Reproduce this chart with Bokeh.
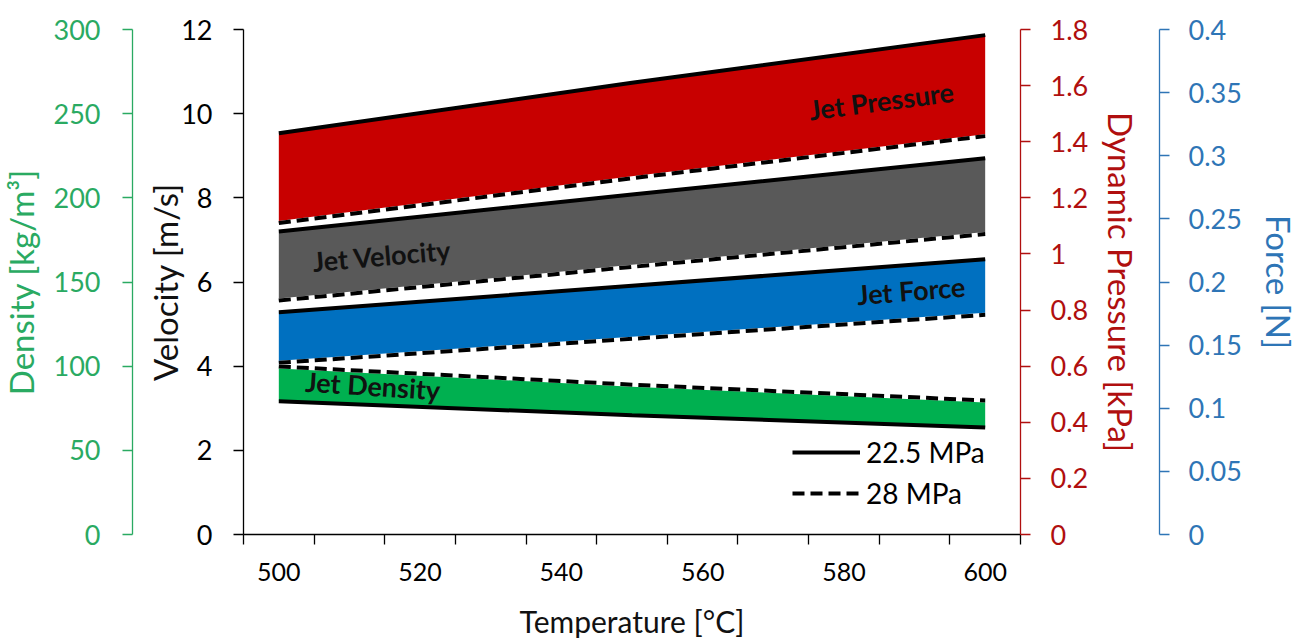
from bokeh.plotting import figure
from bokeh.models import Range1d, LinearAxis, FixedTicker, Legend, LegendItem
from bokeh.core.properties import value
from bokeh.embed import file_html
from bokeh.resources import INLINE
import math

# Jet properties vs. temperature at two operating pressures
temperature = [500, 550, 600]                 # °C
pressure_22_5 = [1.43, 1.61, 1.78]            # dynamic pressure [kPa]
pressure_28 = [1.11, 1.27, 1.42]
velocity_22_5 = [7.20, 8.08, 8.94]            # velocity [m/s]
velocity_28 = [5.56, 6.36, 7.14]
force_22_5 = [0.176, 0.197, 0.218]            # force [N]
force_28 = [0.136, 0.155, 0.174]
density_22_5 = [79.2, 70.8, 63.6]             # density [kg/m³]
density_28 = [99.8, 89.0, 79.6]

x_ticks = [500, 520, 540, 560, 580, 600]
x_minor_ticks = [495, 505, 515, 525, 535, 545, 555, 565, 575, 585, 595, 605]
velocity_ticks = [0, 2, 4, 6, 8, 10, 12]
density_ticks = [0, 50, 100, 150, 200, 250, 300]
pressure_ticks = [0, 0.2, 0.4, 0.6, 0.8, 1.0, 1.2, 1.4, 1.6, 1.8]
pressure_labels = ["0", "0.2", "0.4", "0.6", "0.8", "1", "1.2", "1.4", "1.6", "1.8"]
force_ticks = [0, 0.05, 0.1, 0.15, 0.2, 0.25, 0.3, 0.35, 0.4]
force_labels = ["0", "0.05", "0.1", "0.15", "0.2", "0.25", "0.3", "0.35", "0.4"]

band_names = ["Jet Pressure", "Jet Velocity", "Jet Force", "Jet Density"]
band_label_x = [585.3, 514.6, 589.5, 513.3]
band_label_y = [10.31, 6.63, 5.80, 3.54]
band_label_deg = [7.5, 5.0, 4.5, -3.7]

FONT = "Lato"
TICK_SIZE = "27px"
X_TICK_SIZE = "25px"
TITLE_SIZE = "33px"

RED = "#C80000"
GREY = "#595959"
BLUE = "#0070C0"
GREEN = "#00B050"
AX_GREEN = "#2AAA62"
AX_RED = "#B00F0F"
AX_BLUE = "#2E75B6"

# Canvas layout in pixels. The data area covers the whole canvas and every
# axis is pinned at an exact position inside it.
W, H = 1298, 639
X_START, X_END = 495, 605          # temperature span of the x axis
AXIS_L_PX, AXIS_R_PX = 243, 1020   # its extent on the canvas
Y_MAX = 12                         # velocity span of the value axes
AXIS_TOP_PX, AXIS_BOTTOM_PX = 29, 534
DENSITY_AXIS_PX = 132
FORCE_AXIS_PX = 1159

px_per_x = (AXIS_R_PX - AXIS_L_PX) / (X_END - X_START)
px_per_y = (AXIS_BOTTOM_PX - AXIS_TOP_PX) / Y_MAX


def px_to_x(px):
    return X_START + (px - AXIS_L_PX) / px_per_x


def px_to_y(py):
    return (AXIS_BOTTOM_PX - py) / px_per_y


y_lo, y_hi = px_to_y(H), px_to_y(0)

p = figure(width=W, height=H,
           x_range=Range1d(px_to_x(0), px_to_x(W)), y_range=Range1d(y_lo, y_hi),
           output_backend="svg", toolbar_location=None,
           min_border_left=0, min_border_right=0,
           min_border_top=0, min_border_bottom=0)
p.outline_line_color = None
p.grid.visible = False
p.background_fill_color = "white"
p.border_fill_color = "white"

# secondary scales share the same zero and top as the velocity scale
scale_max = {"pressure": 1.8, "force": 0.4, "density": 300}
p.extra_y_ranges = {
    name: Range1d(y_lo * top / Y_MAX, y_hi * top / Y_MAX)
    for name, top in scale_max.items()
}


def style_axis(ax, color, ticks, labels, title, label_standoff, title_standoff):
    ax.ticker = FixedTicker(ticks=ticks)
    ax.bounds = (ticks[0], ticks[-1])
    ax.major_label_overrides = dict(zip(ticks, labels))
    ax.axis_line_color = color
    ax.axis_line_width = 1.3
    ax.major_tick_line_color = color
    ax.major_tick_line_width = 1.3
    ax.major_tick_out = 10
    ax.major_tick_in = 0
    ax.minor_tick_line_color = None
    ax.minor_tick_out = 0
    ax.minor_tick_in = 0
    ax.major_label_text_color = color
    ax.major_label_text_font = FONT
    ax.major_label_text_font_size = TICK_SIZE
    ax.major_label_standoff = label_standoff
    ax.axis_label = title
    ax.axis_label_text_color = color
    ax.axis_label_text_font = FONT
    ax.axis_label_text_font_size = TITLE_SIZE
    ax.axis_label_text_font_style = "normal"
    ax.axis_label_standoff = title_standoff


# x axis at zero velocity: labels every 20 °C, tick marks at the 10 °C steps between
xa = p.xaxis[0]
xa.fixed_location = 0
xa.bounds = (X_START, X_END)
xa.ticker = FixedTicker(ticks=x_ticks, minor_ticks=x_minor_ticks)
xa.axis_line_color = "black"
xa.axis_line_width = 1.3
xa.major_tick_out = 0
xa.major_tick_in = 0
xa.minor_tick_out = 10
xa.minor_tick_in = 0
xa.minor_tick_line_color = "black"
xa.minor_tick_line_width = 1.3
xa.major_label_text_font = FONT
xa.major_label_text_font_size = X_TICK_SIZE
xa.major_label_text_color = "black"
xa.major_label_standoff = 18
xa.axis_label = "Temperature [°C]"
xa.axis_label_text_font = FONT
xa.axis_label_text_font_size = "30px"
xa.axis_label_text_font_style = "normal"
xa.axis_label_text_color = "#111111"
xa.axis_label_standoff = 19

# left: velocity at the edge of the data, density further out
vel_axis = p.yaxis[0]
vel_axis.fixed_location = X_START
style_axis(vel_axis, "black", velocity_ticks, [str(t) for t in velocity_ticks],
           "Velocity [m/s]", 21, -7)
vel_axis.axis_label_text_color = "#111111"

dens_axis = LinearAxis(y_range_name="density", fixed_location=px_to_x(DENSITY_AXIS_PX))
style_axis(dens_axis, AX_GREEN, density_ticks, [str(t) for t in density_ticks],
           "Density [kg/m³]", 22, 10)
p.add_layout(dens_axis, "left")

# right: dynamic pressure at the edge of the data, force further out
pres_axis = LinearAxis(y_range_name="pressure", fixed_location=X_END)
style_axis(pres_axis, AX_RED, pressure_ticks, pressure_labels,
           "Dynamic Pressure [kPa]", 20, 10)
p.add_layout(pres_axis, "right")

force_axis = LinearAxis(y_range_name="force", fixed_location=px_to_x(FORCE_AXIS_PX))
style_axis(force_axis, AX_BLUE, force_ticks, force_labels, "Force [N]", 19, 14)
p.add_layout(force_axis, "right")

# bands between the 28 MPa and 22.5 MPa curves
bands = [
    (pressure_28, pressure_22_5, RED, "pressure"),
    (velocity_28, velocity_22_5, GREY, "default"),
    (force_28, force_22_5, BLUE, "force"),
    (density_22_5, density_28, GREEN, "density"),
]
for lo, hi, col, rng in bands:
    p.varea(x=temperature, y1=lo, y2=hi, fill_color=col, y_range_name=rng)

solid_lines = {}
dashed_lines = {}
for name, solid, dashed, rng in [
    ("pressure", pressure_22_5, pressure_28, "pressure"),
    ("velocity", velocity_22_5, velocity_28, "default"),
    ("force", force_22_5, force_28, "force"),
    ("density", density_22_5, density_28, "density"),
]:
    solid_lines[name] = p.line(temperature, solid, line_color="black",
                               line_width=4, y_range_name=rng)
    p.line(temperature, dashed, line_color="white", line_width=4, y_range_name=rng)
    dashed_lines[name] = p.line(temperature, dashed, line_color="black",
                                line_width=4, line_dash="12 6", y_range_name=rng)

p.text(x=band_label_x, y=band_label_y, text=band_names,
       angle=[math.radians(a) for a in band_label_deg],
       text_font=value(FONT), text_font_style="bold", text_font_size="27px",
       text_align="center", text_baseline="middle", text_color="#111111")

legend = Legend(items=[
    LegendItem(label="22.5 MPa", renderers=[solid_lines["pressure"]]),
    LegendItem(label="28 MPa", renderers=[dashed_lines["pressure"]]),
])
legend.location = (792, 129)
legend.glyph_width = 68
legend.glyph_height = 30
legend.label_height = 30
legend.label_standoff = 6
legend.spacing = 7
legend.padding = 0
legend.margin = 0
legend.border_line_alpha = 0
legend.background_fill_alpha = 0
legend.label_text_font = FONT
legend.label_text_font_size = "28px"
legend.label_text_color = "black"
p.add_layout(legend)

open("out.html", "w").write(file_html(p, INLINE))
